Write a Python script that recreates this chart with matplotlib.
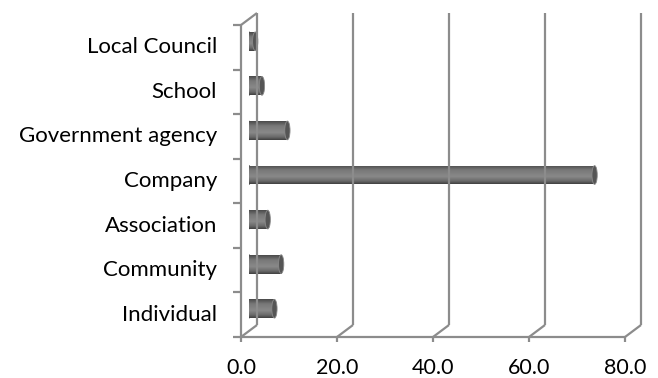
import numpy as np
import matplotlib

matplotlib.use("Agg")
import matplotlib.pyplot as plt
from matplotlib.colors import LinearSegmentedColormap
from matplotlib.patches import Ellipse
from matplotlib.lines import Line2D
from matplotlib.transforms import IdentityTransform

categories = ["Individual", "Community", "Association", "Company",
              "Government agency", "School", "Local Council"]
values = [5.3, 6.7, 3.9, 72.0, 8.0, 2.7, 1.3]
x_ticks = [0, 20, 40, 60, 80]
x_labels = ["0.0", "20.0", "40.0", "60.0", "80.0"]

W, H, DPI = 658, 378, 100
GRID = "#8c8c8c"
FONT = ["Lato", "DejaVu Sans"]
DEPTH = (8, 6)          # half depth of the 3-D box, in pixels
BAR_H = 0.42
CAP_W = 1.1             # width of the end ellipse, in data units

fig = plt.figure(figsize=(W / DPI, H / DPI), dpi=DPI, facecolor="white")
# axes = the middle depth plane, where the cylinders sit
ax = fig.add_axes([249 / W, 47 / H, 384 / W, 312 / H])
ax.set_xlim(0, 80)
ax.set_ylim(-0.5, len(categories) - 0.5)
ax.axis("off")


def px(x, y, side):
    """data point -> pixel, pushed to the front (-1) or back (+1) plane"""
    p = ax.transData.transform((x, y))
    return p[0] + side * DEPTH[0], p[1] + side * DEPTH[1]


def seg(p0, p1, **kw):
    fig.add_artist(Line2D([p0[0], p1[0]], [p0[1], p1[1]],
                          transform=IdentityTransform(), color=GRID, lw=1.6,
                          solid_capstyle="butt", **kw))


y0, y1 = -0.5, len(categories) - 0.5

# back wall gridlines + floor diagonals
for xt in x_ticks:
    seg(px(xt, y0, 1), px(xt, y1, 1))
    seg(px(xt, y0, -1), px(xt, y0, 1))
# left wall top edge, front axes
seg(px(0, y1, -1), px(0, y1, 1))
seg(px(0, y0, -1), px(0, y1, -1))
seg(px(0, y0, -1), px(80, y0, -1))

# tick marks
for xt, lab in zip(x_ticks, x_labels):
    fx, fy = px(xt, y0, -1)
    seg((fx, fy), (fx, fy - 5))
    fig.text(fx, fy - 31, lab, transform=IdentityTransform(), ha="center",
             va="center", fontsize=15.5, color="black", family=FONT)
for b in np.arange(y0, y1 + 0.5):
    fx, fy = px(0, b, -1)
    seg((fx, fy), (fx - 8, fy))
for i, cat in enumerate(categories):
    fx, fy = px(0, i, -1)
    fig.text(fx - 24, fy, cat, transform=IdentityTransform(), ha="right",
             va="center", fontsize=16, color="black", family=FONT)

# cylinders
shade = LinearSegmentedColormap.from_list(
    "cyl", [(0.0, "#404040"), (0.15, "#696969"), (0.4, "#898989"),
            (0.75, "#787878"), (1.0, "#4a4a4a")])
grad = np.linspace(1, 0, 64).reshape(-1, 1)

bars = ax.barh(range(len(categories)), values, height=BAR_H,
               color="none", edgecolor="none")
for i, (bar, v) in enumerate(zip(bars, values)):
    ax.add_patch(Ellipse((0, i), CAP_W, BAR_H, facecolor="#5a5a5a",
                         edgecolor="#444444", lw=0.5, zorder=2))
    im = ax.imshow(grad, extent=[0, v, i - BAR_H / 2, i + BAR_H / 2],
                   cmap=shade, aspect="auto", zorder=3, interpolation="bilinear")
    im.set_clip_path(bar)
    ax.add_patch(Ellipse((v, i), CAP_W, BAR_H, facecolor="#555555",
                         edgecolor="#8a8a8a", lw=0.6, zorder=4))

ax.set_xlim(0, 80)
ax.set_ylim(y0, y1)

fig.savefig("out.png", dpi=DPI)
